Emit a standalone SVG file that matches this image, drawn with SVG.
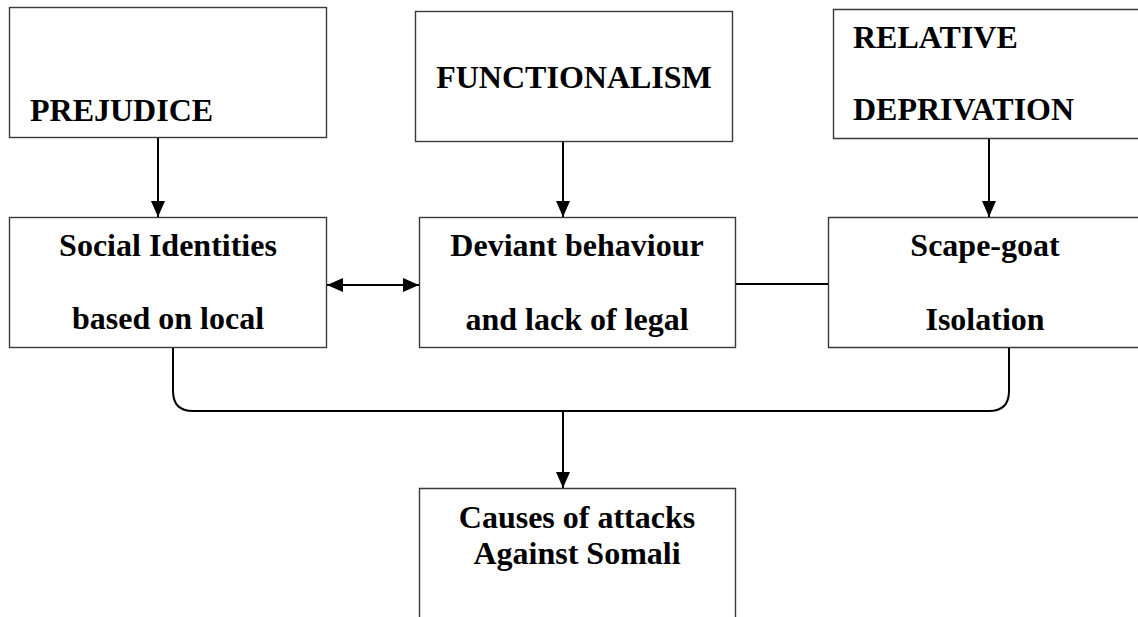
<svg xmlns="http://www.w3.org/2000/svg" width="1138" height="617" viewBox="0 0 1138 617">
<style>
.box{fill:#fff;stroke:#3a3a3a;stroke-width:1.4}
.t{font-family:"Liberation Serif","Times New Roman",serif;font-weight:bold;font-size:32px;fill:#000}
.c{text-anchor:middle}
.ln{fill:none;stroke:#000;stroke-width:2}
</style>
<defs>
<marker id="ah" viewBox="0 0 16 14" refX="16" refY="7" markerWidth="16" markerHeight="14" orient="auto-start-reverse" markerUnits="userSpaceOnUse">
<path d="M0,0 L16,7 L0,14 Z" fill="#000"/>
</marker>
</defs>
<g id="prejudice">
<rect class="box" x="9.5" y="7.5" width="317" height="130"/>
<text class="t" x="30" y="121">PREJUDICE</text>
</g>
<g id="functionalism">
<rect class="box" x="415.5" y="11.5" width="317" height="130"/>
<text class="t c" x="574" y="88">FUNCTIONALISM</text>
</g>
<g id="relative-deprivation">
<path class="box" d="M1140,9.5 H833.5 V138.5 H1140"/>
<text class="t" x="853" y="48">RELATIVE</text>
<text class="t" x="853" y="120">DEPRIVATION</text>
</g>
<g id="social-identities">
<rect class="box" x="9.5" y="217.5" width="317" height="130"/>
<text class="t c" x="168" y="256">Social Identities</text>
<text class="t c" x="168" y="329">based on local</text>
</g>
<g id="deviant-behaviour">
<rect class="box" x="419.5" y="217.5" width="316" height="130"/>
<text class="t c" x="577" y="256">Deviant behaviour</text>
<text class="t c" x="577" y="330">and lack of legal</text>
</g>
<g id="scape-goat">
<path class="box" d="M1140,217.5 H828.5 V347.5 H1140"/>
<text class="t c" x="985" y="256">Scape-goat</text>
<text class="t c" x="985" y="330">Isolation</text>
</g>
<g id="causes">
<path class="box" d="M419.5,620 V488.5 H735.5 V620"/>
<text class="t c" x="577" y="528">Causes of attacks</text>
<text class="t c" x="577" y="564">Against Somali</text>
</g>
<g id="connectors">
<line class="ln" x1="158" y1="138" x2="158" y2="217" marker-end="url(#ah)"/>
<line class="ln" x1="563" y1="142" x2="563" y2="217" marker-end="url(#ah)"/>
<line class="ln" x1="989" y1="139" x2="989" y2="217" marker-end="url(#ah)"/>
<line class="ln" x1="327" y1="285" x2="419" y2="285" marker-start="url(#ah)" marker-end="url(#ah)"/>
<line class="ln" x1="736" y1="284" x2="828" y2="284"/>
<path class="ln" d="M173,348 V391 Q173,411 193,411 H989 Q1009,411 1009,391 V348"/>
<line class="ln" x1="563" y1="411" x2="563" y2="488" marker-end="url(#ah)"/>
</g>
</svg>
